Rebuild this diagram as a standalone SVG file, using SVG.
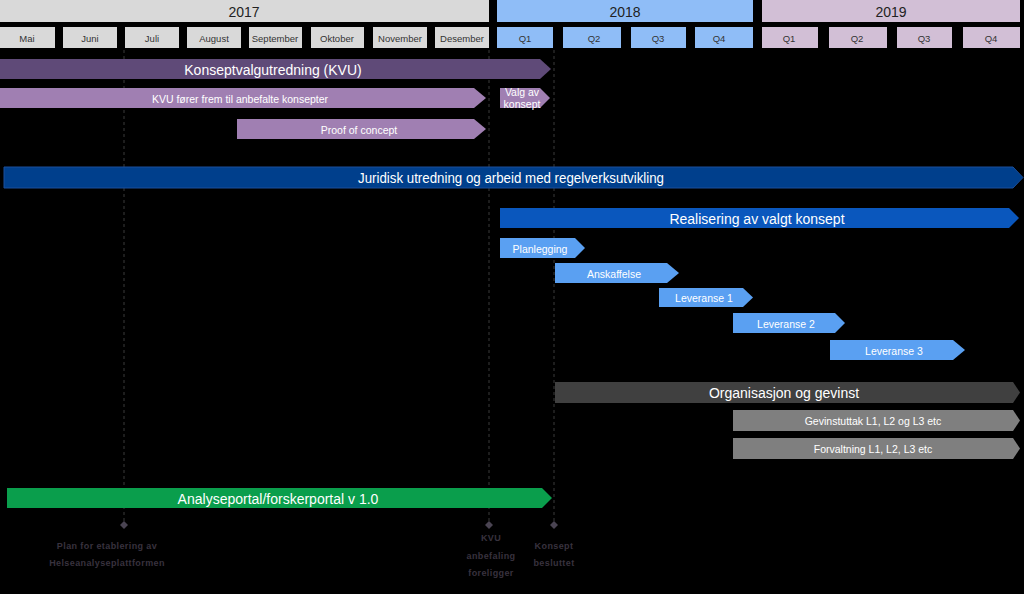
<svg xmlns="http://www.w3.org/2000/svg" width="1024" height="594" viewBox="0 0 1024 594">
<style>
text{font-family:"Liberation Sans",Arial,sans-serif;text-anchor:middle;dominant-baseline:central}
.yr{font-size:14px;fill:#222}
.mo{font-size:9.5px;fill:#333}
.big{font-size:14px;fill:#fff}
.sm{font-size:10.5px;fill:#fff}
.ms{font-size:9px;fill:#38323e;font-weight:bold;letter-spacing:0.4px}
.g17{fill:#d9d9d9}
.g18{fill:#8fbdf7}
.g19{fill:#d2bfd6}
.dash{stroke:#3a3a3a;stroke-width:1;stroke-dasharray:3,3;fill:none}
.dia{fill:#4a4452}
</style>
<rect x="0" y="0" width="1024" height="594" fill="#000"/>
<g id="header">
<rect class="g17" x="0" y="0" width="489" height="22"/><text class="yr" x="244" y="12">2017</text>
<rect class="g18" x="497" y="0" width="256" height="22"/><text class="yr" x="625" y="12">2018</text>
<rect class="g19" x="762" y="0" width="258" height="22"/><text class="yr" x="891" y="12">2019</text>
<rect class="g17" x="0" y="27" width="55" height="21"/><text class="mo" x="27" y="38">Mai</text>
<rect class="g17" x="63" y="27" width="54" height="21"/><text class="mo" x="90" y="38">Juni</text>
<rect class="g17" x="125" y="27" width="54" height="21"/><text class="mo" x="152" y="38">Juli</text>
<rect class="g17" x="187" y="27" width="54" height="21"/><text class="mo" x="214" y="38">August</text>
<rect class="g17" x="249" y="27" width="53" height="21"/><text class="mo" x="275" y="38">September</text>
<rect class="g17" x="311" y="27" width="53" height="21"/><text class="mo" x="337" y="38">Oktober</text>
<rect class="g17" x="373" y="27" width="54" height="21"/><text class="mo" x="400" y="38">November</text>
<rect class="g17" x="435" y="27" width="54" height="21"/><text class="mo" x="462" y="38">Desember</text>
<rect class="g18" x="497" y="27" width="56" height="21"/><text class="mo" x="525" y="38">Q1</text>
<rect class="g18" x="563" y="27" width="58" height="21"/><text class="mo" x="594" y="38">Q2</text>
<rect class="g18" x="631" y="27" width="55" height="21"/><text class="mo" x="658" y="38">Q3</text>
<rect class="g18" x="695" y="27" width="58" height="21"/><text class="mo" x="719" y="38">Q4</text>
<rect class="g19" x="762" y="27" width="56" height="21"/><text class="mo" x="789" y="38">Q1</text>
<rect class="g19" x="829" y="27" width="58" height="21"/><text class="mo" x="857" y="38">Q2</text>
<rect class="g19" x="897" y="27" width="55" height="21"/><text class="mo" x="924" y="38">Q3</text>
<rect class="g19" x="963" y="27" width="57" height="21"/><text class="mo" x="991" y="38">Q4</text>
</g>
<g id="connectors">
<line class="dash" x1="124" y1="50" x2="124" y2="522"/>
<line class="dash" x1="489" y1="50" x2="489" y2="522"/>
<line class="dash" x1="554" y1="50" x2="554" y2="522"/>
</g>
<g id="kvu"><polygon fill="#5f4a78" points="0,59 540,59 551,69 540,79 0,79"/><text class="big" x="273" y="70">Konseptvalgutredning (KVU)</text></g>
<g id="kvu-forer"><polygon fill="#a07fb2" points="0,88 474,88 486,98 474,108 0,108"/><text class="sm" x="240" y="98.5">KVU fører frem til anbefalte konsepter</text></g>
<g id="valg"><polygon fill="#a07fb2" points="500,88 540,88 550,98 540,108 500,108"/><text class="sm" x="522" y="92">Valg av</text><text class="sm" x="522" y="104">konsept</text></g>
<g id="poc"><polygon fill="#a07fb2" points="237,119 474,119 486,129 474,139 237,139"/><text class="sm" x="359" y="129.5">Proof of concept</text></g>
<g id="juridisk"><polygon fill="#003f8c" stroke="#1a4f9a" stroke-width="1" points="4,167 1013,167 1023,177.5 1013,188 4,188"/><text class="big" x="511" y="178" textLength="306" lengthAdjust="spacingAndGlyphs">Juridisk utredning og arbeid med regelverksutvikling</text></g>
<g id="realisering"><polygon fill="#0a57bd" points="500,208 1009,208 1019,218 1009,228 500,228"/><text class="big" x="757" y="219">Realisering av valgt konsept</text></g>
<g id="planlegging"><polygon fill="#5aa0f2" points="500,238 575,238 585,248 575,258 500,258"/><text class="sm" x="540" y="248.5">Planlegging</text></g>
<g id="anskaffelse"><polygon fill="#5aa0f2" points="555,263 667,263 679,273 667,283 555,283"/><text class="sm" x="614" y="273.5">Anskaffelse</text></g>
<g id="lev1"><polygon fill="#5aa0f2" points="659,288 743,288 753,297.5 743,307 659,307"/><text class="sm" x="704" y="298">Leveranse 1</text></g>
<g id="lev2"><polygon fill="#5aa0f2" points="733,313 835,313 845,323 835,333 733,333"/><text class="sm" x="786" y="323.5">Leveranse 2</text></g>
<g id="lev3"><polygon fill="#5aa0f2" points="830,340 953,340 965,350 953,360 830,360"/><text class="sm" x="894" y="350.5">Leveranse 3</text></g>
<g id="organisasjon"><polygon fill="#404040" points="555,382 1013,382 1020,392.5 1013,403 555,403"/><text class="big" x="784" y="393">Organisasjon og gevinst</text></g>
<g id="gevinstuttak"><polygon fill="#7f7f7f" points="733,410 1013,410 1020,420.5 1013,431 733,431"/><text class="sm" x="873" y="421">Gevinstuttak L1, L2 og L3 etc</text></g>
<g id="forvaltning"><polygon fill="#7f7f7f" points="733,438 1013,438 1020,448.5 1013,459 733,459"/><text class="sm" x="873" y="449">Forvaltning L1, L2, L3 etc</text></g>
<g id="analyseportal"><polygon fill="#0a9e4c" points="7,488 542,488 552,498 542,508 7,508"/><text class="big" x="278" y="499">Analyseportal/forskerportal v 1.0</text></g>
<g id="ms-plan"><polygon class="dia" points="124,521 128,525 124,529 120,525"/><text class="ms" x="107" y="546">Plan for etablering av</text><text class="ms" x="107" y="563">Helseanalyseplattformen</text></g>
<g id="ms-kvu"><polygon class="dia" points="489,521 493,525 489,529 485,525"/><text class="ms" x="491" y="538">KVU</text><text class="ms" x="491" y="556">anbefaling</text><text class="ms" x="491" y="573">foreligger</text></g>
<g id="ms-konsept"><polygon class="dia" points="554,521 558,525 554,529 550,525"/><text class="ms" x="554" y="546">Konsept</text><text class="ms" x="554" y="563">besluttet</text></g>
</svg>
